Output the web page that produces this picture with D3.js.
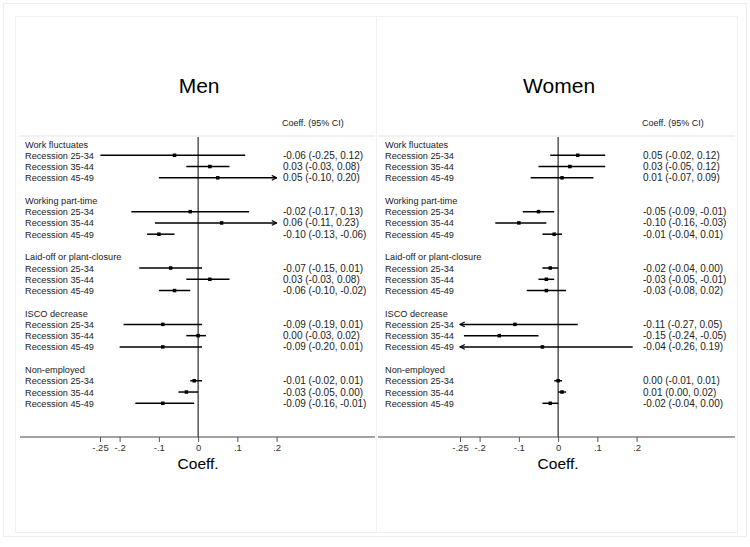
<!DOCTYPE html>
<html><head><meta charset="utf-8">
<script src="https://cdn.jsdelivr.net/npm/d3@7"></script>
<style>html,body{margin:0;padding:0;background:#fff;}svg{display:block;font-family:Arial,"Liberation Sans",sans-serif;}</style>
</head><body>
<script>
// ---- data ----
const groups = ["Work fluctuates","Working part-time","Laid-off or plant-closure","ISCO decrease","Non-employed"];
const cohorts = ["Recession 25-34","Recession 35-44","Recession 45-49"];
// Men: coefficient, lower, upper (per group, per cohort)
const menCoef  = [-0.06, 0.03, 0.05,  -0.02, 0.06, -0.10,  -0.07, 0.03, -0.06,  -0.09, 0.00, -0.09,  -0.01, -0.03, -0.09];
const menLo    = [-0.249,-0.03,-0.10, -0.17,-0.11,-0.13,   -0.15,-0.03,-0.10,   -0.19,-0.03,-0.20,   -0.02,-0.05,-0.16];
const menHi    = [0.12, 0.08, 0.204,   0.13, 0.23,-0.06,    0.01, 0.08,-0.02,    0.01, 0.02, 0.01,    0.01, 0.00,-0.01];
// Women
const womenCoef= [0.05, 0.03, 0.01,   -0.05,-0.10,-0.01,   -0.02,-0.03,-0.03,   -0.11,-0.15,-0.04,    0.00, 0.01,-0.02];
const womenLo  = [-0.02,-0.05,-0.07,  -0.09,-0.16,-0.04,   -0.04,-0.05,-0.08,   -0.27,-0.24,-0.26,   -0.01, 0.00,-0.04];
const womenHi  = [0.12, 0.12, 0.09,   -0.01,-0.03, 0.01,    0.00,-0.01, 0.02,    0.05,-0.05, 0.19,    0.01, 0.02, 0.00];
const tickValues = [-0.25,-0.2,-0.1,0,0.1,0.2];
const tickLabels = ["-.25","-.2","-.1","0",".1",".2"];
const panelTitles = ["Men","Women"];
const xDomain = [-0.25, 0.2];

const W=750,H=547;
const svg=d3.select("body").append("svg").attr("width",W).attr("height",H);

// arrow marker
const defs=svg.append("defs");
defs.append("marker").attr("id","arr").attr("viewBox","0 0 10 10").attr("refX",9).attr("refY",5)
  .attr("markerWidth",4).attr("markerHeight",4).attr("orient","auto-start-reverse").attr("markerUnits","strokeWidth")
  .append("path").attr("d","M1,1 L9,5 L1,9").attr("fill","none").attr("stroke","#000").attr("stroke-width",2);

// outer faint frame
svg.append("rect").attr("x",3.5).attr("y",3.5).attr("width",743).attr("height",533).attr("fill","none").attr("stroke","#eeeeee");

const loc=d3.formatLocale({decimal:".",thousands:",",grouping:[3],currency:["",""],minus:"-"});
const fmt=loc.format(".2f");
const fmtV=v=>{let s=fmt(v); if(s==="-0.00")s="0.00"; return s;};

const panels=[
  {title:panelTitles[0],coef:menCoef,lo:menLo,hi:menHi,range:[100,276.6],labelX:25,valX:283,lineX:[20,375],frame:[15.5,16.5,361,516]},
  {title:panelTitles[1],coef:womenCoef,lo:womenLo,hi:womenHi,range:[460,636.6],labelX:385,valX:643,lineX:[378,735],frame:[376.5,16.5,361,516]}
];

// rows
const rows=[];
groups.forEach((g,gi)=>{
  rows.push({type:"header",text:g,idx:gi*5});
  cohorts.forEach((c,ci)=>rows.push({type:"row",text:c,idx:gi*5+ci+1,k:gi*3+ci}));
});
const y=d3.scaleLinear().domain([0,23]).range([144,403.3]);
const axisY=437;

panels.forEach(p=>{
  const g=svg.append("g");
  g.append("rect").attr("x",p.frame[0]).attr("y",p.frame[1]).attr("width",p.frame[2]).attr("height",p.frame[3])
    .attr("fill","none").attr("stroke","#f0f0f0");
  const x=d3.scaleLinear().domain(xDomain).range(p.range);
  // title
  g.append("text").attr("x",x(0)+1).attr("y",93).attr("text-anchor","middle").attr("font-size",21).attr("fill","#000").text(p.title);
  g.append("text").attr("x",p.valX-1).attr("y",126).attr("font-size",9).attr("fill","#222").text("Coeff. (95% CI)");
  // header separator
  g.append("line").attr("x1",p.lineX[0]).attr("x2",p.lineX[1]).attr("y1",136).attr("y2",136).attr("stroke","#e4e4e4").attr("stroke-width",1.2);
  // zero line
  g.append("line").attr("x1",x(0)).attr("x2",x(0)).attr("y1",137).attr("y2",axisY).attr("stroke","#000").attr("stroke-width",1);
  // axis
  g.append("line").attr("x1",p.lineX[0]).attr("x2",p.lineX[1]).attr("y1",axisY).attr("y2",axisY).attr("stroke","#444").attr("stroke-width",1);
  const ax=d3.axisBottom(x).tickValues(tickValues).tickFormat((d,i)=>tickLabels[i]).tickSize(5).tickPadding(2);
  const axg=g.append("g").attr("transform",`translate(0,${axisY})`).call(ax);
  axg.select(".domain").remove();
  axg.selectAll(".tick line").attr("stroke","#555");
  axg.selectAll(".tick text").attr("font-size",9.5).attr("fill","#333").attr("font-family","Arial,'Liberation Sans',sans-serif");
  g.append("text").attr("x",x(0)).attr("y",469).attr("text-anchor","middle").attr("font-size",15.5).attr("fill","#000").text("Coeff.");
  // labels
  g.selectAll("text.lab").data(rows).join("text").attr("class","lab")
    .attr("x",p.labelX).attr("y",d=>y(d.idx)+3.5).attr("font-size",9.2).attr("fill","#222").text(d=>d.text);
  const dr=rows.filter(r=>r.type==="row");
  // CI lines
  g.selectAll("line.ci").data(dr).join("line").attr("class","ci")
    .attr("x1",d=>x(Math.max(p.lo[d.k],xDomain[0]))).attr("x2",d=>x(Math.min(p.hi[d.k],xDomain[1])))
    .attr("y1",d=>y(d.idx)).attr("y2",d=>y(d.idx)).attr("stroke","#000").attr("stroke-width",1.5)
    .attr("marker-end",d=>p.hi[d.k]>xDomain[1]?"url(#arr)":null)
    .attr("marker-start",d=>p.lo[d.k]<xDomain[0]?"url(#arr)":null);
  // points
  g.selectAll("rect.pt").data(dr).join("rect").attr("class","pt")
    .attr("x",d=>x(p.coef[d.k])-1.75).attr("y",d=>y(d.idx)-1.75).attr("width",3.5).attr("height",3.5).attr("fill","#000");
  // values
  g.selectAll("text.val").data(dr).join("text").attr("class","val")
    .attr("x",p.valX).attr("y",d=>y(d.idx)+3.5).attr("font-size",10).attr("fill","#222")
    .text(d=>`${fmtV(p.coef[d.k])} (${fmtV(p.lo[d.k])}, ${fmtV(p.hi[d.k])})`);
});
</script>
</body></html>
